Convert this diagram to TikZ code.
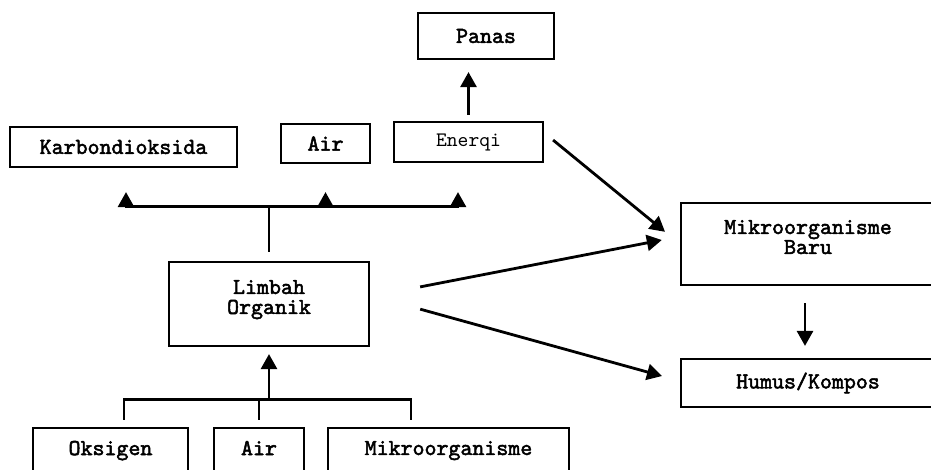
\documentclass[tikz,border=0pt]{standalone}
\usepackage{fontspec}
\setmonofont{lmmono10-regular}[Extension=.otf, AutoFakeBold=2.2]
\usetikzlibrary{arrows.meta,calc}

\begin{document}
\begin{tikzpicture}[
  x=0.5pt, y=-0.5pt,
  font=\ttfamily\bfseries\fontsize{11.4}{10}\selectfont,
  >={Triangle[length=7.5pt, width=8pt]},
  box/.style={draw, line width=1.1pt, align=center, inner sep=0pt},
  low/.style={minimum height=24pt, text depth=4pt},
  ln/.style={line width=1.4pt}
]
\useasboundingbox[fill=white] (0,0) rectangle (931,470);
\clip (0,0) rectangle (931,470);
\node[box, minimum width=113.5pt, minimum height=20pt] (karbon) at (123.5,147) {Karbondioksida};
\node[box, minimum width=44.5pt, minimum height=19.5pt] (airtop) at (325.5,143.5) {Air};
\node[box, minimum width=74.5pt, minimum height=20pt, font=\ttfamily\fontsize{10.3}{12}\selectfont] (energi) at (468.5,142) {Enerqi};
\node[box, minimum width=68pt, minimum height=23pt] (panas) at (486,36) {Panas};
\node[box, minimum width=100pt, minimum height=42pt] (limbah) at (269,304) {Limbah\\Organik\rule[-7pt]{0pt}{7pt}};
\node[box, minimum width=127pt, minimum height=41pt] (mbaru) at (808,244) {Mikroorganisme\\Baru\rule[-7pt]{0pt}{7pt}};
\node[box, minimum width=127pt, minimum height=24pt] (humus) at (808,383) {Humus/Kompos};
\node[box, low, minimum width=77.5pt] (oksigen) at (110.5,452) {Oksigen\rule[-4pt]{0pt}{4pt}};
\node[box, low, minimum width=45pt] (airbot) at (259,452) {Air\rule[-4pt]{0pt}{4pt}};
\node[box, low, minimum width=120.5pt] (mikro) at (448.5,452) {Mikroorganisme\rule[-4pt]{0pt}{4pt}};

\coordinate (busT) at ($(limbah.north)+(0,-54)$);
\draw[ln, shorten <=4.5pt] (limbah.north) -- (busT);
\draw[ln, ->, shorten >=12pt] (busT) -| ([xshift=1.25pt]karbon.south);
\draw[ln, ->, shorten >=14pt] (busT) -| (airtop.south);
\draw[ln, ->, shorten >=14.5pt] (busT) -| ([xshift=-5.25pt]energi.south);
\draw[ln, ->, shorten <=3pt, shorten >=6pt] (energi.north) -- (energi.north |- panas.south);

\coordinate (busB) at ($(limbah.south)+(0,52)$);
\draw[ln, ->, shorten >=3.5pt] (busB) -- (limbah.south);
\draw[ln, shorten <=3.5pt, shorten >=3.5pt] ([xshift=6.75pt]oksigen.north) |- (busB) -| ([xshift=-18.75pt]mikro.north);
\draw[ln, shorten >=3.5pt] (airbot.north |- busB) -- (airbot.north);

\draw[ln, ->, shorten <=5.8pt, shorten >=9.6pt] ([yshift=4.65pt]energi.east) -- (mbaru.west);
\draw[ln, ->, shorten <=25.5pt, shorten >=9.2pt] ([yshift=3.7pt]limbah.east) -- ([yshift=3.75pt]mbaru.west);
\draw[ln, ->, shorten <=26pt, shorten >=9.3pt] ([yshift=4.35pt]limbah.east) -- ([yshift=1pt]humus.west);
\draw[ln, ->, shorten <=8.5pt, shorten >=6pt] ([xshift=-1.5pt]mbaru.south) -- ([xshift=-1.5pt]humus.north);
\end{tikzpicture}
\end{document}
